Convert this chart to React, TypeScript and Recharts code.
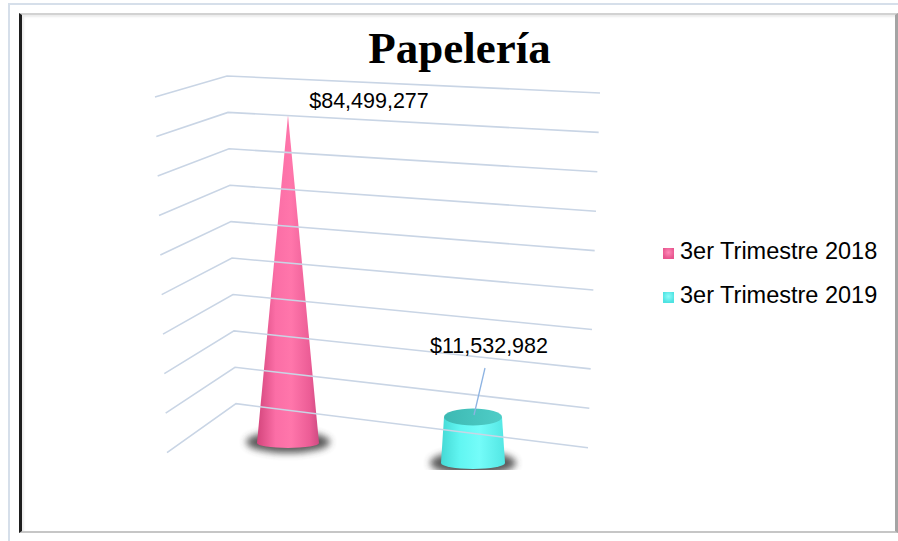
import React from 'react';
import { BarChart, Bar, XAxis, YAxis, ReferenceLine, Legend, LabelList } from 'recharts';

// ---- data ----
const categories = ['Papelería'];
const seriesNames = ['3er Trimestre 2018', '3er Trimestre 2019'];
const values2018 = [84499277];
const values2019 = [11532982];
const gridTicks = [0, 10000000, 20000000, 30000000, 40000000, 50000000, 60000000, 70000000, 80000000, 90000000];
const chartTitle = 'Papelería';

const data = categories.map((c, i) => ({ category: c, t2018: values2018[i], t2019: values2019[i] }));

// ---- styles ----
const W = 898;
const H = 541;
const LABEL_FONT = "'Liberation Sans', Arial, sans-serif";
const GRID_COLOR = '#c9d5e5';
const PINK = '#f0609a';
const CYAN = '#58ecea';

const fmt = (v: number) => '$' + Number(v).toLocaleString('en-US');

// perspective gridline (side wall + back wall) built on the library's y for each tick
const makeGridShape = (index: number, count: number) => (p: any) => {
  const t = 1 - index / (count - 1); // 0 at top, 1 at bottom
  const y = p.y1;
  const x1 = p.x1;
  const x2 = p.x2;
  const leftX = x1 - 5 + 12 * t;
  const leftY = y + 21 + 28 * t;
  const cornerX = x1 + 67 + 9 * t;
  const rightX = x2 - 1 - 12 * t;
  const rightY = y + 17 + 27 * t;
  return (
    <polyline
      points={`${leftX},${leftY} ${cornerX},${y} ${rightX},${rightY}`}
      fill="none"
      stroke={GRID_COLOR}
      strokeWidth={1.6}
    />
  );
};

const ConeShape = (p: any) => {
  const { x, y, width, height } = p;
  if (height == null || width == null) return null;
  const cx = x + width / 2;
  const yb = y + height;
  const r = width / 2;
  const ry = 5;
  return (
    <g>
      <defs>
        <linearGradient id="coneGrad" x1="0" x2="1" y1="0" y2="0">
          <stop offset="0%" stopColor="#d3457c" />
          <stop offset="30%" stopColor="#fb6ea6" />
          <stop offset="55%" stopColor="#ff76ab" />
          <stop offset="85%" stopColor="#ec5d96" />
          <stop offset="100%" stopColor="#cf4a82" />
        </linearGradient>
        <filter id="shadowBlurA" x="-50%" y="-100%" width="200%" height="300%">
          <feGaussianBlur stdDeviation="3.5" />
        </filter>
      </defs>
      <ellipse cx={cx} cy={yb - 1} rx={r + 11} ry={ry + 6} fill="#3c3c3c" opacity={0.85} filter="url(#shadowBlurA)" />
      <path
        d={`M${cx - r},${yb} L${cx},${y} L${cx + r},${yb} A${r},${ry} 0 0 1 ${cx - r},${yb} Z`}
        fill="url(#coneGrad)"
      />
    </g>
  );
};

const FrustumShape = (p: any) => {
  const { x, y, width, height } = p;
  if (height == null || width == null) return null;
  const cx = x + width / 2;
  const yb = y + height;
  const rb = width / 2 + 1;
  const rt = rb - 3;
  const ryb = 6;
  const ryt = 8.5;
  return (
    <g>
      <defs>
        <linearGradient id="frustGrad" x1="0" x2="1" y1="0" y2="0">
          <stop offset="0%" stopColor="#45d9d5" />
          <stop offset="30%" stopColor="#62f6f2" />
          <stop offset="60%" stopColor="#74fcf9" />
          <stop offset="100%" stopColor="#52e6e3" />
        </linearGradient>
        <linearGradient id="frustTop" x1="0" x2="1" y1="0" y2="0">
          <stop offset="0%" stopColor="#3db9b3" />
          <stop offset="100%" stopColor="#4fcdc7" />
        </linearGradient>
        <filter id="shadowBlurB" x="-50%" y="-100%" width="200%" height="300%">
          <feGaussianBlur stdDeviation="3.5" />
        </filter>
      </defs>
      <ellipse cx={cx} cy={yb} rx={rb + 11} ry={ryb + 6} fill="#3c3c3c" opacity={0.85} filter="url(#shadowBlurB)" />
      <path
        d={`M${cx - rt},${y} L${cx - rb},${yb} A${rb},${ryb} 0 0 0 ${cx + rb},${yb} L${cx + rt},${y} Z`}
        fill="url(#frustGrad)"
      />
      <ellipse cx={cx} cy={y} rx={rt} ry={ryt} fill="url(#frustTop)" />
    </g>
  );
};

const PinkLabel = (p: any) => {
  const { x, y, width, value } = p;
  const cx = x + width / 2;
  return (
    <text x={cx + 81} y={y - 7} textAnchor="middle" fontFamily={LABEL_FONT} fontSize={21.5} fill="#000">
      {fmt(value)}
    </text>
  );
};

const CyanLabel = (p: any) => {
  const { x, y, width, value } = p;
  const cx = x + width / 2;
  return (
    <g>
      <line x1={cx + 12} y1={y - 49} x2={cx + 1} y2={y - 2} stroke="#8db3e2" strokeWidth={1.3} />
      <text x={cx + 16} y={y - 64} textAnchor="middle" fontFamily={LABEL_FONT} fontSize={21.5} fill="#000">
        {fmt(value)}
      </text>
    </g>
  );
};

const LegendContent = (props: any) => {
  const { payload } = props;
  return (
    <div style={{ fontFamily: LABEL_FONT, fontSize: 23.5, color: '#000' }}>
      {(payload || []).map((e: any, i: number) => {
        const base = i === 0 ? '#e8568f' : '#4fe3e2';
        const hi = i === 0 ? '#ff8ab8' : '#8ffcfa';
        return (
          <div key={i} style={{ height: 44, display: 'flex', alignItems: 'center', whiteSpace: 'nowrap' }}>
            <span
              style={{
                display: 'inline-block',
                width: 11,
                height: 11,
                marginRight: 6,
                marginTop: 3,
                background: `radial-gradient(circle at 50% 40%, ${hi} 0%, ${base} 70%)`,
              }}
            />
            <span style={{ lineHeight: 1 }}>{e.value}</span>
          </div>
        );
      })}
    </div>
  );
};

export default function App() {
  return (
    <div style={{ position: 'absolute', left: 0, top: 0, width: W, height: H, background: '#fff', overflow: 'hidden' }}>
      {/* outer light frame */}
      <div
        style={{
          position: 'absolute',
          left: 8,
          top: 3,
          width: W - 8,
          height: H - 3,
          boxSizing: 'border-box',
          borderTop: '2px solid #d6dfea',
          borderLeft: '2px solid #d6dfea',
        }}
      />
      {/* inner chart frame */}
      <div
        style={{
          position: 'absolute',
          left: 19,
          top: 13,
          width: W - 19,
          height: 520,
          boxSizing: 'border-box',
          borderLeft: '3px solid #1e1e1e',
          borderTop: '2px solid #d2d2d2',
          borderRight: '3px solid #a4a4a4',
          borderBottom: '2px solid #c6c6c6',
          boxShadow: 'inset 2px 2px 2px rgba(0,0,0,0.08)',
        }}
      />
      <div
        style={{
          position: 'absolute',
          left: 0,
          top: 26,
          width: 919,
          textAlign: 'center',
          fontFamily: "'Liberation Serif', 'DejaVu Serif', serif",
          fontWeight: 'bold',
          fontSize: 45,
          lineHeight: '44px',
          color: '#000',
        }}
      >
        {chartTitle}
      </div>
      <div style={{ position: 'absolute', left: 0, top: 0 }}>
        <BarChart
          width={W}
          height={H}
          data={data}
          margin={{ top: 76, bottom: 71, left: 160, right: 297 }}
          barSize={62}
          barGap={123}
        >
          <XAxis dataKey="category" hide />
          <YAxis yAxisId="pink" hide domain={[-6960000, 94590000]} allowDataOverflow />
          <YAxis yAxisId="cyan" hide domain={[-1754000, 96990000]} allowDataOverflow />
          <YAxis yAxisId="grid" hide domain={[-18210000, 90000000]} allowDataOverflow />
          {gridTicks.map((v, i) => (
            <ReferenceLine
              key={v}
              yAxisId="grid"
              y={v}
              ifOverflow="visible"
              shape={makeGridShape(i, gridTicks.length)}
            />
          ))}
          <Bar
            dataKey="t2018"
            name={seriesNames[0]}
            yAxisId="pink"
            fill={PINK}
            shape={ConeShape}
            isAnimationActive={false}
          >
            <LabelList dataKey="t2018" content={PinkLabel} />
          </Bar>
          <Bar
            dataKey="t2019"
            name={seriesNames[1]}
            yAxisId="cyan"
            fill={CYAN}
            shape={FrustumShape}
            isAnimationActive={false}
          >
            <LabelList dataKey="t2019" content={CyanLabel} />
          </Bar>
          <Legend
            layout="vertical"
            align="center"
            verticalAlign="middle"
            content={LegendContent}
            wrapperStyle={{ position: 'absolute', left: 663, top: 230, width: 'auto', height: 'auto' }}
          />
        </BarChart>
      </div>
    </div>
  );
}
